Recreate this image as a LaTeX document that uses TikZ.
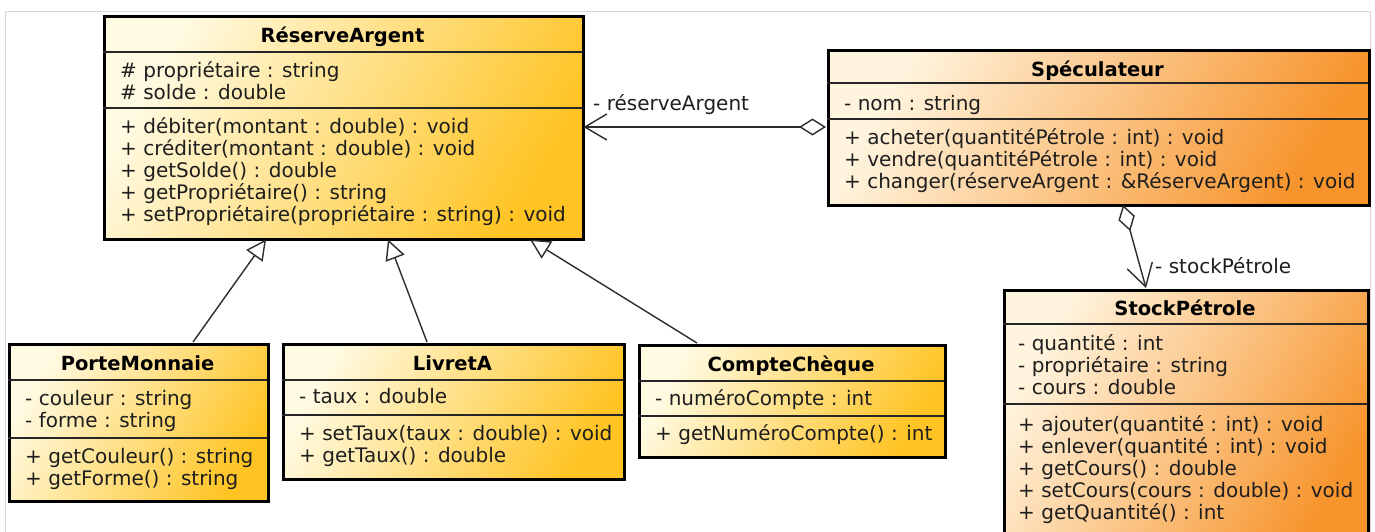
\documentclass[tikz,border=0pt]{standalone}
\usepackage{fontspec}
\setmainfont{DejaVu Sans}
\usetikzlibrary{arrows.meta}
\definecolor{ycream}{RGB}{255,250,226}
\definecolor{ygold}{RGB}{255,196,36}
\definecolor{ocream}{RGB}{255,244,222}
\definecolor{oorange}{RGB}{247,148,44}
\definecolor{txtc}{RGB}{30,30,30}
\definecolor{linec}{RGB}{45,45,45}
\definecolor{framec}{RGB}{215,215,215}
\tikzset{
 classbox/.style={draw=black, line width=2.5pt, inner sep=0pt, anchor=north west},
 ybox/.style={classbox, left color=ycream, right color=ygold, shading angle=60},
 obox/.style={classbox, left color=ocream, right color=oorange, shading angle=60},
 sepline/.style={draw=black!85, line width=1.3pt},
 txt/.style={inner sep=0pt, anchor=base west, text=txtc, font=\fontsize{20}{22}\selectfont},
 ttl/.style={inner sep=0pt, anchor=base, text=black, font=\fontsize{19.5}{22}\selectfont\bfseries},
 lbl/.style={inner sep=0pt, anchor=base west, text=txtc, font=\fontsize{20}{22}\selectfont},
 gen/.style={draw=linec, line width=1.4pt, -{Triangle[open, length=20pt, width=20pt, fill=white]}},
 agg/.style={draw=linec, line width=1.4pt, {Diamond[open, length=27pt, width=17pt, fill=white]}-{Straight Barb[length=22pt, width=26pt]}},
}
\newcommand{\clslines}[4]{\foreach \ln [count=\k] in {#4}{\node[txt] (#1-\k) at (#2,{#3+22*(\k-1)}) {\ln};}}
\begin{document}
\begin{tikzpicture}[x=1pt,y=-1pt]
\useasboundingbox (0,0) rectangle (1375,531);
\clip (0,0) rectangle (1375,531);
\fill[white] (0,0) rectangle (1375,531);
\draw[framec, line width=1pt] (5,11) rectangle (1370,560);

% RéserveArgent
\node[ybox, minimum width=479pt, minimum height=223pt] (ra) at (103,15) {};
\draw[sepline] (103,52) -- (582,52);
\draw[sepline] (103,108) -- (582,108);
\node[ttl] (ra-t) at (342.5,42) {RéserveArgent};
\clslines{ra-a}{120}{77}{\# propriétaire : string,\# solde : double}
\clslines{ra-m}{120}{133}{+ débiter(montant : double) : void,+ créditer(montant : double) : void,+ getSolde() : double,+ getPropriétaire() : string,+ setPropriétaire(propriétaire : string) : void}

% Spéculateur
\node[obox, minimum width=541pt, minimum height=155pt] (sp) at (827,49) {};
\draw[sepline] (827,83) -- (1368,83);
\draw[sepline] (827,119) -- (1368,119);
\node[ttl] (sp-t) at (1097.5,76) {Spéculateur};
\clslines{sp-a}{844}{110}{- nom : string}
\clslines{sp-m}{844}{144}{+ acheter(quantitéPétrole : int) : void,+ vendre(quantitéPétrole : int) : void,+ changer(réserveArgent : \&RéserveArgent) : void}

% StockPétrole
\node[obox, minimum width=364pt, minimum height=260pt] (st) at (1003,289) {};
\draw[sepline] (1003,324) -- (1367,324);
\draw[sepline] (1003,404) -- (1367,404);
\node[ttl] (st-t) at (1185,315) {StockPétrole};
\clslines{st-a}{1018}{350}{- quantité : int,- propriétaire : string,- cours : double}
\clslines{st-m}{1018}{431}{+ ajouter(quantité : int) : void,+ enlever(quantité : int) : void,+ getCours() : double,+ setCours(cours : double) : void,+ getQuantité() : int}

% PorteMonnaie
\node[ybox, minimum width=259pt, minimum height=157pt] (pm) at (8,343) {};
\draw[sepline] (8,380) -- (267,380);
\draw[sepline] (8,438) -- (267,438);
\node[ttl] (pm-t) at (137.5,370) {PorteMonnaie};
\clslines{pm-a}{25}{405}{- couleur : string,- forme : string}
\clslines{pm-m}{25}{463}{+ getCouleur() : string,+ getForme() : string}

% LivretA
\node[ybox, minimum width=341pt, minimum height=135pt] (la) at (282,343) {};
\draw[sepline] (282,380) -- (623,380);
\draw[sepline] (282,415) -- (623,415);
\node[ttl] (la-t) at (452.5,370) {LivretA};
\clslines{la-a}{299}{403}{- taux : double}
\clslines{la-m}{299}{440}{+ setTaux(taux : double) : void,+ getTaux() : double}

% CompteChèque
\node[ybox, minimum width=306pt, minimum height=112pt] (cc) at (638,344) {};
\draw[sepline] (638,381) -- (944,381);
\draw[sepline] (638,416) -- (944,416);
\node[ttl] (cc-t) at (791,371) {CompteChèque};
\clslines{cc-a}{655}{405}{- numéroCompte : int}
\clslines{cc-m}{655}{440}{+ getNuméroCompte() : int}

% connector end points
\coordinate (pm-top) at (193,342);
\coordinate (ra-b1) at (266,239.5);
\coordinate (la-top) at (427,342);
\coordinate (ra-b2) at (388,239.5);
\coordinate (cc-top) at (697,343);
\coordinate (ra-b3) at (530,239.5);
\coordinate (sp-left) at (826,127);
\coordinate (ra-right) at (583.5,127);
\coordinate (sp-bot) at (1123,205);
\coordinate (st-top) at (1146,288);

\draw[gen] (pm-top) -- (ra-b1);
\draw[gen] (la-top) -- (ra-b2);
\draw[gen] (cc-top) -- (ra-b3);
\draw[agg] (sp-left) -- (ra-right);
\draw[agg] (sp-bot) -- (st-top);
\node[lbl] (lbl-ra) at (593,110) {- réserveArgent};
\node[lbl] (lbl-st) at (1155,273) {- stockPétrole};
\end{tikzpicture}
\end{document}
